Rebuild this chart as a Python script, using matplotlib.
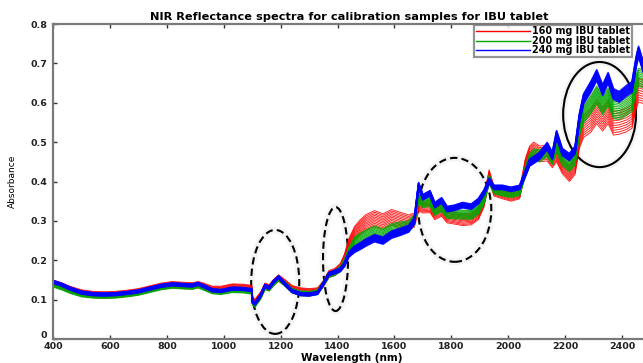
import matplotlib
matplotlib.use("Agg")
from matplotlib import pyplot as plt
from matplotlib.patches import Ellipse
from matplotlib.lines import Line2D
from matplotlib.transforms import ScaledTranslation

# wavelength grid (nm)
wl = [400, 430, 460, 500, 540, 580, 620, 660, 700, 740,
      780, 820, 860, 890, 910, 930, 960, 990, 1030, 1070,
      1099, 1101, 1110, 1130, 1145, 1160, 1175, 1193, 1215, 1240,
      1270, 1300, 1330, 1350, 1370, 1390, 1410, 1425, 1440, 1460,
      1480, 1500, 1530, 1560, 1590, 1620, 1650, 1670, 1685, 1700,
      1725, 1742, 1766, 1785, 1810, 1840, 1870, 1895, 1915, 1933,
      1950, 1980, 2010, 2040, 2060, 2075, 2090, 2110, 2137, 2155,
      2170, 2190, 2215, 2235, 2250, 2265, 2290, 2311, 2332, 2351,
      2370, 2390, 2415, 2435, 2450, 2458, 2475]

# mean absorbance of each calibration group
abs_160 = [0.142, 0.135, 0.126, 0.117, 0.113, 0.112, 0.113, 0.116, 0.120, 0.127,
           0.134, 0.138, 0.136, 0.135, 0.138, 0.134, 0.126, 0.126, 0.132, 0.131,
           0.128, 0.098, 0.093, 0.112, 0.134, 0.130, 0.143, 0.155, 0.143, 0.128,
           0.122, 0.120, 0.122, 0.140, 0.165, 0.170, 0.182, 0.205, 0.240, 0.268,
           0.284, 0.296, 0.306, 0.298, 0.309, 0.302, 0.296, 0.302, 0.342, 0.335,
           0.336, 0.318, 0.327, 0.310, 0.307, 0.303, 0.305, 0.318, 0.350, 0.415,
           0.375, 0.368, 0.362, 0.368, 0.440, 0.470, 0.480, 0.470, 0.472, 0.455,
           0.470, 0.440, 0.420, 0.440, 0.510, 0.540, 0.555, 0.577, 0.558, 0.577,
           0.548, 0.550, 0.556, 0.565, 0.615, 0.632, 0.628]

abs_200 = [0.138, 0.131, 0.122, 0.113, 0.110, 0.109, 0.110, 0.113, 0.117, 0.124,
           0.131, 0.135, 0.133, 0.132, 0.136, 0.130, 0.121, 0.119, 0.124, 0.123,
           0.120, 0.092, 0.087, 0.107, 0.131, 0.128, 0.141, 0.153, 0.140, 0.123,
           0.116, 0.115, 0.119, 0.140, 0.163, 0.168, 0.178, 0.195, 0.222, 0.245,
           0.255, 0.262, 0.272, 0.264, 0.278, 0.282, 0.286, 0.302, 0.358, 0.345,
           0.348, 0.325, 0.335, 0.318, 0.316, 0.316, 0.315, 0.328, 0.355, 0.405,
           0.378, 0.372, 0.368, 0.373, 0.425, 0.455, 0.468, 0.465, 0.478, 0.458,
           0.490, 0.455, 0.440, 0.458, 0.535, 0.570, 0.595, 0.620, 0.592, 0.615,
           0.582, 0.580, 0.590, 0.600, 0.650, 0.665, 0.660]

abs_240 = [0.145, 0.138, 0.128, 0.118, 0.114, 0.113, 0.114, 0.117, 0.121, 0.128,
           0.135, 0.139, 0.137, 0.136, 0.140, 0.134, 0.124, 0.122, 0.128, 0.127,
           0.124, 0.095, 0.090, 0.110, 0.135, 0.130, 0.145, 0.157, 0.140, 0.122,
           0.114, 0.113, 0.117, 0.140, 0.165, 0.170, 0.176, 0.190, 0.215, 0.228,
           0.236, 0.245, 0.256, 0.250, 0.265, 0.272, 0.280, 0.300, 0.390, 0.360,
           0.370, 0.340, 0.352, 0.330, 0.333, 0.340, 0.336, 0.350, 0.372, 0.402,
           0.385, 0.385, 0.380, 0.385, 0.420, 0.448, 0.455, 0.465, 0.490, 0.465,
           0.520, 0.475, 0.462, 0.480, 0.560, 0.610, 0.640, 0.670, 0.632, 0.663,
           0.622, 0.615, 0.630, 0.640, 0.705, 0.730, 0.690]

# half width of the band of replicate spectra
spread = [0.008] * 30 + \
         [0.008, 0.008, 0.008, 0.008, 0.009, 0.009, 0.010, 0.012, 0.015, 0.018,
          0.019, 0.020, 0.020, 0.020, 0.020, 0.020, 0.019, 0.018, 0.016, 0.015] + \
         [0.015] * 10 + \
         [0.012, 0.012, 0.012, 0.012, 0.018, 0.020, 0.020, 0.020, 0.020, 0.020,
          0.020, 0.020, 0.020, 0.022, 0.026, 0.028, 0.030, 0.030, 0.030, 0.030] + \
         [0.030] * 7
replicates = [-1.0, -0.8, -0.6, -0.4, -0.2, 0.0, 0.2, 0.4, 0.6, 0.8, 1.0]

groups = ["160 mg IBU tablet", "200 mg IBU tablet", "240 mg IBU tablet"]
means = [abs_160, abs_200, abs_240]
spread_scale = [1.0, 0.75, 0.45]
colors = ["#ff0000", "#00a800", "#0000ff"]
widths = [0.7, 0.8, 1.2]

# highlighted regions (dashed) and the solid one
ell_x = [1181, 1393, 1812, 2321]
ell_y = [0.145, 0.203, 0.328, 0.570]
ell_w = [169, 88, 257, 256]
ell_h = [0.264, 0.264, 0.264, 0.267]
ell_ls = ["--", "--", "--", "-"]

plt.rcParams["font.family"] = ["DejaVu Sans"]

fig = plt.figure(figsize=(6.43, 3.63), dpi=100)
ax = fig.add_axes([53 / 643, 24 / 363, 597.5 / 643, 315 / 363])

for mean, sc, col, lw in zip(means, spread_scale, colors, widths):
    for r in replicates:
        ys = [m + r * sc * s for m, s in zip(mean, spread)]
        ax.plot(wl, ys, color=col, lw=lw, alpha=0.85)

for x, y, w, h, ls in zip(ell_x, ell_y, ell_w, ell_h, ell_ls):
    # faint halo like the original
    ax.add_patch(Ellipse((x, y), w, h, fill=False, edgecolor="black", lw=5, alpha=0.045))
    e = Ellipse((x, y), w, h, fill=False, edgecolor="black", lw=1.5)
    if ls == "--":
        e.set_linestyle((0, (3.5, 2.0)))
    ax.add_patch(e)

ax.set_xlim(400, 2500)
ax.set_ylim(0, 0.8)
ax.set_xticks(range(400, 2500, 200))
ax.set_yticks([0, 0.1, 0.2, 0.3, 0.4, 0.5, 0.6, 0.7, 0.8])
ax.set_yticklabels(["0", "0.1", "0.2", "0.3", "0.4", "0.5", "0.6", "0.7", "0.8"])
ax.tick_params(direction="in", length=3, width=1, colors="#333333",
               labelsize=6.8, top=True, pad=2.5)
ax.tick_params(axis="y", pad=4)
for lab in ax.get_xticklabels() + ax.get_yticklabels():
    lab.set_fontweight("bold")
    lab.set_color("#222222")
# lift the "0" label a little so it clears the "400" below it
zero = ax.get_yticklabels()[0]
zero.set_transform(zero.get_transform() + ScaledTranslation(0, 3 / 72, fig.dpi_scale_trans))
for side in ["left", "bottom", "top"]:
    ax.spines[side].set_color("#7a7a7a")
    ax.spines[side].set_linewidth(1.6)
ax.spines["right"].set_visible(False)

ax.set_xlabel("Wavelength (nm)", fontsize=7.5, fontweight="bold", labelpad=1)
ax.set_ylabel("Absorbance", fontsize=6.5, labelpad=10)
fig.text(349 / 643, 1 - 17 / 363, "NIR Reflectance spectra for calibration samples for IBU tablet",
         ha="center", va="center", fontsize=8.2, fontweight="bold")

handles = [Line2D([], [], color=c, lw=1) for c in colors]
leg = fig.legend(handles, groups, loc="upper right", bbox_to_anchor=(632 / 643, 1 - 25 / 363),
                 prop={"weight": "bold", "size": 6.9}, frameon=True, fancybox=False,
                 borderpad=0.15, labelspacing=-0.05, handlelength=5.6, handletextpad=0.3,
                 borderaxespad=0)
leg.get_frame().set_edgecolor("#7a7a7a")
leg.get_frame().set_linewidth(1.6)

fig.savefig("out.png", dpi=100)
